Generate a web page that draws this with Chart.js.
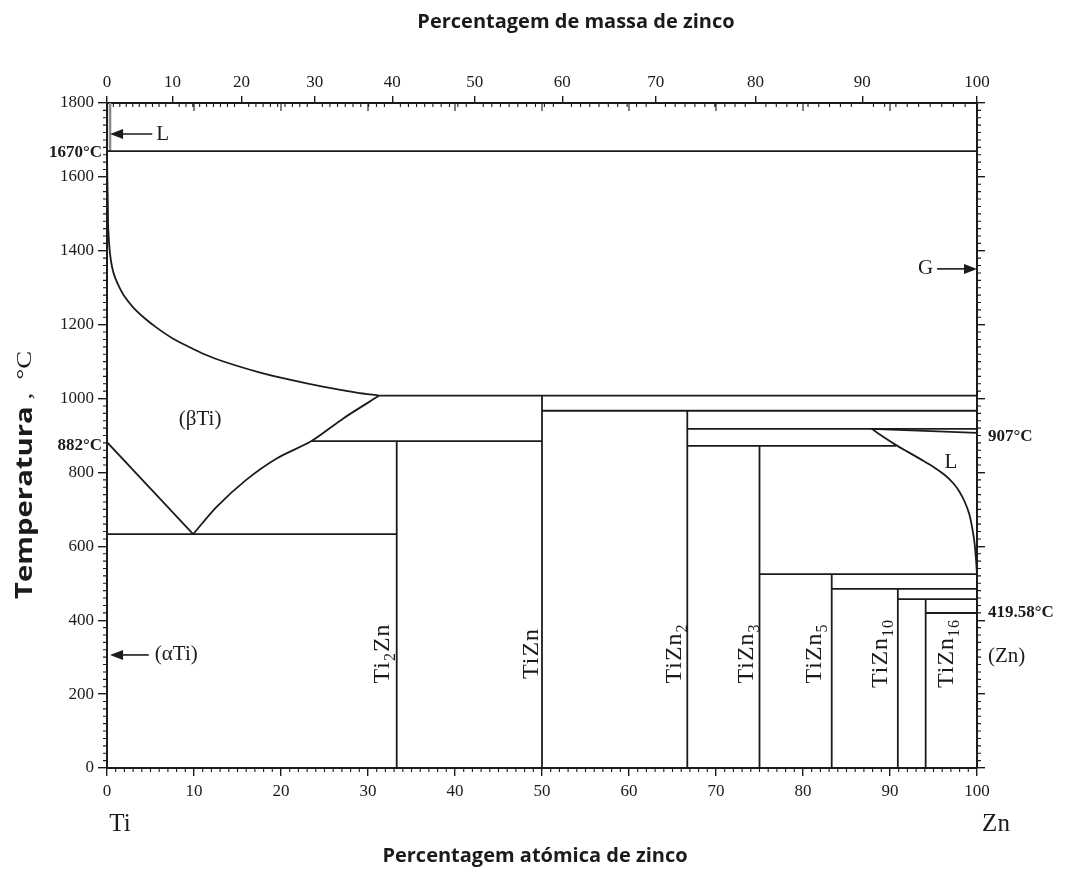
<!DOCTYPE html>
<html>
<head>
<meta charset="utf-8">
<script src="https://cdn.jsdelivr.net/npm/chart.js@4.4.1/dist/chart.umd.min.js"></script>
<style>
  html, body { margin: 0; padding: 0; background: #fff; }
  #wrap { width: 1066px; height: 870px; }
</style>
</head>
<body>
<div id="wrap"><canvas id="c" width="1066" height="870"></canvas></div>
<script>
// Ti–Zn phase diagram: temperature (°C) against atomic % Zn, with mass % Zn on the top axis.

const M_TI = 47.867, M_ZN = 65.38;

// tick labels
const atomicTicks = [0, 10, 20, 30, 40, 50, 60, 70, 80, 90, 100];
const massTicks   = [0, 10, 20, 30, 40, 50, 60, 70, 80, 90, 100];
const tempTicks   = [0, 200, 400, 600, 800, 1000, 1200, 1400, 1600, 1800];

// phase boundaries, [at.% Zn, °C]
const tiMeltLine     = [[0, 1670], [100, 1670]];
const tiLiquidEdge   = [[0.35, 1670], [0.35, 1800]];
const tiLiquidus     = [[0, 1670], [0.04, 1600], [0.1, 1520], [0.15, 1456], [0.34, 1393], [0.6, 1354],
                        [0.92, 1328], [1.4, 1302], [1.88, 1281], [3.0, 1247], [4.4, 1216], [5.7, 1192],
                        [7.6, 1162], [9.5, 1139], [11.4, 1118], [13.3, 1101], [17.2, 1073], [21, 1051],
                        [24.8, 1032], [28.7, 1016], [31.3, 1008]];
const peritectic1008 = [[31.3, 1008], [100, 1008]];
const betaSolvus     = [[9.9, 633], [12.6, 707], [16, 780], [19.5, 838], [23.5, 885], [27.2, 947], [31.3, 1008]];
const alphaBeta      = [[0, 882], [9.9, 633]];
const eutectoid633   = [[0, 633], [33.3, 633]];
const line885        = [[23.5, 885], [50, 885]];
const line967        = [[50, 967], [100, 967]];
const line918        = [[66.7, 918], [100, 918]];
const wedge907       = [[87.9, 918], [100, 907]];
const line872        = [[66.7, 872], [90.7, 872]];
const znLiquidus     = [[87.9, 918], [89.3, 895], [90.7, 874], [92.1, 855], [93.5, 836], [95, 815],
                        [96.3, 793], [97.3, 770], [98.0, 747], [98.6, 720], [99.1, 688], [99.45, 650],
                        [99.7, 612], [99.87, 570], [100, 525]];
const line525        = [[75, 525], [100, 525]];
const line485        = [[83.3, 485], [100, 485]];
const line457        = [[90.9, 457], [100, 457]];
const line41958      = [[94.1, 419.58], [100, 419.58]];
const ti2znLine      = [[33.3, 0], [33.3, 885]];
const tiznLine       = [[50, 0], [50, 1008]];
const tizn2Line      = [[66.7, 0], [66.7, 967]];
const tizn3Line      = [[75, 0], [75, 872]];
const tizn5Line      = [[83.3, 0], [83.3, 525]];
const tizn10Line     = [[90.9, 0], [90.9, 485]];
const tizn16Line     = [[94.1, 0], [94.1, 457]];

// phase names (rotated), centre at [at.%, °C]
const compoundNames = [
  { parts: [['Ti'], ['2', 1], ['Zn']],  at: [31.6, 310] },
  { parts: [['TiZn']],                  at: [48.7, 310] },
  { parts: [['TiZn'], ['2', 1]],        at: [65.2, 310] },
  { parts: [['TiZn'], ['3', 1]],        at: [73.4, 310] },
  { parts: [['TiZn'], ['5', 1]],        at: [81.3, 310] },
  { parts: [['TiZn'], ['10', 1]],       at: [88.9, 310] },
  { parts: [['TiZn'], ['16', 1]],       at: [96.4, 310] }
];

const INK = '#1b1b1b';
const SERIF = '"Liberation Serif", "Times New Roman", serif';
const SANS = '"Open Sans", "Liberation Sans", sans-serif';

function massToAtomic(w) {
  const nZn = w / M_ZN, nTi = (100 - w) / M_TI;
  return 100 * nZn / (nZn + nTi);
}

function seg(arr, curved) {
  return {
    data: arr.map(([x, y]) => ({ x, y })),
    showLine: true,
    borderColor: INK,
    borderWidth: 1.8,
    pointRadius: 0,
    fill: false,
    tension: curved ? 0.3 : 0
  };
}

const datasets = [
  seg(tiMeltLine), seg(tiLiquidus, true), seg(peritectic1008), seg(betaSolvus, true),
  seg(alphaBeta), seg(eutectoid633), seg(line885), seg(line967), seg(line918), seg(wedge907),
  seg(line872), seg(znLiquidus, true), seg(line525), seg(line485), seg(line457), seg(line41958),
  seg(ti2znLine), seg(tiznLine), seg(tizn2Line), seg(tizn3Line), seg(tizn5Line), seg(tizn10Line), seg(tizn16Line)
];
const edge = seg(tiLiquidEdge);
edge.borderColor = '#8a8a8a';
edge.borderWidth = 2.5;
datasets.push(edge);

function arrow(ctx, x1, y1, x2, y2) {
  const ang = Math.atan2(y2 - y1, x2 - x1), L = 13, W = 5;
  ctx.beginPath();
  ctx.moveTo(x1, y1);
  ctx.lineTo(x2 - L * 0.8 * Math.cos(ang), y2 - L * 0.8 * Math.sin(ang));
  ctx.stroke();
  ctx.beginPath();
  ctx.moveTo(x2, y2);
  ctx.lineTo(x2 - L * Math.cos(ang) - W * Math.sin(ang), y2 - L * Math.sin(ang) + W * Math.cos(ang));
  ctx.lineTo(x2 - L * Math.cos(ang) + W * Math.sin(ang), y2 - L * Math.sin(ang) - W * Math.cos(ang));
  ctx.closePath();
  ctx.fill();
}

function rotatedName(ctx, parts, cx, cy) {
  const big = 24, small = 16;
  ctx.save();
  ctx.letterSpacing = '1px';
  let total = 0;
  const widths = parts.map(([t, sub]) => {
    ctx.font = (sub ? small : big) + 'px ' + SERIF;
    const w = ctx.measureText(t).width;
    total += w;
    return w;
  });
  ctx.translate(cx, cy);
  ctx.rotate(-Math.PI / 2);
  ctx.textAlign = 'left';
  ctx.textBaseline = 'alphabetic';
  let x = -total / 2;
  parts.forEach(([t, sub], i) => {
    ctx.font = (sub ? small : big) + 'px ' + SERIF;
    ctx.fillText(t, x, sub ? 13 : 7);
    x += widths[i];
  });
  ctx.restore();
}

const decor = {
  id: 'decor',
  afterDraw(chart) {
    const { ctx, chartArea: ca, scales } = chart;
    const px = v => scales.x.getPixelForValue(v);
    const py = v => scales.y.getPixelForValue(v);
    ctx.save();
    ctx.strokeStyle = INK;
    ctx.fillStyle = INK;

    // minor tick marks
    ctx.lineWidth = 1.1;
    ctx.beginPath();
    for (let a = 1; a < 100; a++) {
      if (a % 10) { const X = px(a); ctx.moveTo(X, ca.bottom); ctx.lineTo(X, ca.bottom + 4); }
    }
    for (let w = 1; w < 100; w++) {
      if (w % 10) { const X = px(massToAtomic(w)); ctx.moveTo(X, ca.top); ctx.lineTo(X, ca.top + 4); }
    }
    for (let a = 10; a < 100; a += 10) {
      const X = px(a); ctx.moveTo(X, ca.top); ctx.lineTo(X, ca.top + 8);
    }
    for (let t = 20; t < 1800; t += 20) {
      if (t % 200) {
        const Y = py(t);
        ctx.moveTo(ca.left, Y); ctx.lineTo(ca.left - 4, Y);
        ctx.moveTo(ca.right, Y); ctx.lineTo(ca.right + 4, Y);
      }
    }
    ctx.stroke();

    // arrows
    ctx.lineWidth = 1.6;
    arrow(ctx, px(5.2), py(1716), px(0.35), py(1716));
    arrow(ctx, px(4.8), py(306), px(0.35), py(306));
    arrow(ctx, px(95.4), py(1351), px(100), py(1351));

    // region labels
    ctx.textBaseline = 'middle';
    ctx.textAlign = 'center';
    ctx.font = '21px ' + SERIF;
    ctx.fillText('L', px(6.4), py(1716));
    ctx.fillText('G', px(94.1), py(1351));
    ctx.fillText('(\u03B2Ti)', px(10.7), py(942));
    ctx.fillText('L', px(97.0), py(826));
    ctx.textAlign = 'left';
    ctx.fillText('(\u03B1Ti)', px(5.5), py(306));
    ctx.fillText('(Zn)', px(100) + 11, py(302));

    // end members
    ctx.font = '25px ' + SERIF;
    ctx.textAlign = 'center';
    ctx.fillText('Ti', px(0) + 13, 824);
    ctx.fillText('Zn', px(100) + 19, 824);

    // invariant temperatures
    ctx.font = 'bold 17px ' + SERIF;
    ctx.textAlign = 'right';
    ctx.fillText('1670\u00B0C', ca.left - 5, py(1670) + 2);
    ctx.fillText('882\u00B0C', ca.left - 5, py(882) + 3);
    ctx.textAlign = 'left';
    ctx.fillText('907\u00B0C', ca.right + 11, py(907) + 4);
    ctx.fillText('419.58\u00B0C', ca.right + 11, py(419.58));

    // phase names
    compoundNames.forEach(c => rotatedName(ctx, c.parts, px(c.at[0]), py(c.at[1])));

    // axis titles
    ctx.textAlign = 'center';
    ctx.textBaseline = 'middle';
    ctx.font = 'bold 20px ' + SANS;
    ctx.fillText('Percentagem de massa de zinco', 576, 22);
    ctx.fillText('Percentagem atómica de zinco', 535, 856);

    ctx.save();
    ctx.translate(25, 599);
    ctx.rotate(-Math.PI / 2);
    ctx.scale(1.22, 1);
    ctx.textAlign = 'left';
    ctx.textBaseline = 'middle';
    ctx.font = 'bold 24px ' + SANS;
    ctx.fillText('Temperatura', 0, 0);
    const w = ctx.measureText('Temperatura').width;
    ctx.font = '22px ' + SERIF;
    ctx.fillText(' ,  \u00B0C', w, 0);
    ctx.restore();

    ctx.restore();
  }
};

const tickFont = { family: SERIF, size: 17 };
const plain = v => String(v);

new Chart(document.getElementById('c'), {
  type: 'scatter',
  data: { datasets },
  options: {
    responsive: false,
    animation: false,
    events: [],
    layout: { padding: 0 },
    plugins: { legend: { display: false }, tooltip: { enabled: false } },
    scales: {
      x: {
        type: 'linear', position: 'bottom', min: 0, max: 100,
        afterBuildTicks: s => { s.ticks = atomicTicks.map(v => ({ value: v })); },
        ticks: { font: tickFont, color: INK, padding: 5, maxRotation: 0, autoSkip: false, callback: plain },
        grid: { drawOnChartArea: false, tickLength: 8, color: INK, lineWidth: 1.4 },
        border: { color: INK, width: 2 },
        afterFit: s => { s.height = 102; }
      },
      xTop: {
        type: 'linear', position: 'top', min: 0, max: 100,
        afterBuildTicks: s => { s.ticks = massTicks.map(w => ({ value: massToAtomic(w) })); },
        ticks: { font: tickFont, color: INK, padding: 3, maxRotation: 0, autoSkip: false,
                 callback: (v, i) => String(massTicks[i]) },
        grid: { drawOnChartArea: false, tickLength: 7, color: INK, lineWidth: 1.4 },
        border: { color: INK, width: 2 },
        afterFit: s => { s.height = 103; }
      },
      y: {
        type: 'linear', position: 'left', min: 0, max: 1800,
        afterBuildTicks: s => { s.ticks = tempTicks.map(v => ({ value: v })); },
        ticks: { font: tickFont, color: INK, padding: 4, autoSkip: false, callback: plain },
        grid: { drawOnChartArea: false, tickLength: 9, color: INK, lineWidth: 1.4 },
        border: { color: INK, width: 2 },
        afterFit: s => { s.width = 107; }
      },
      yRight: {
        type: 'linear', position: 'right', min: 0, max: 1800,
        afterBuildTicks: s => { s.ticks = tempTicks.map(v => ({ value: v })); },
        ticks: { display: false },
        grid: { drawOnChartArea: false, tickLength: 8, color: INK, lineWidth: 1.4 },
        border: { color: INK, width: 2 },
        afterFit: s => { s.width = 89; }
      }
    }
  },
  plugins: [decor]
});
</script>
</body>
</html>
